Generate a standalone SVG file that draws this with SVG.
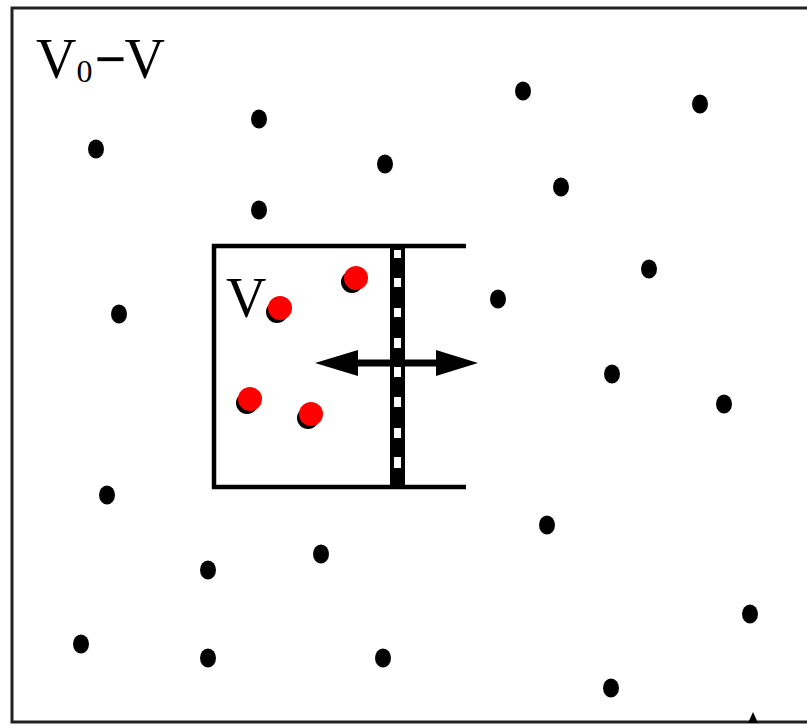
<svg xmlns="http://www.w3.org/2000/svg" width="807" height="725" viewBox="0 0 807 725">
<style>
.dot{fill:#000}
.red{fill:#ff0000}
.lbl{font-family:"Liberation Serif",serif;font-size:56px;fill:#000}
.wall{stroke:#000;stroke-width:4.5;fill:none}
</style>
<rect width="807" height="725" fill="#fff"/>
<g id="frame">
<path d="M807 8 H12 V722 H807" fill="none" stroke="#222" stroke-width="3"/>
<polygon points="748,723 753,712 758,723" fill="#000"/>
</g>
<g id="label-outer">
<text class="lbl" x="36" y="78">V<tspan font-size="32" dy="4">0</tspan><tspan dy="-4" font-weight="bold" dx="2">−</tspan><tspan dx="-2">V</tspan></text>
</g>
<g id="particles-outer">
<ellipse class="dot" cx="96" cy="149" rx="8" ry="9.5"/>
<ellipse class="dot" cx="259" cy="119" rx="8" ry="9.5"/>
<ellipse class="dot" cx="385" cy="164" rx="8" ry="9.5"/>
<ellipse class="dot" cx="523" cy="91" rx="8" ry="9.5"/>
<ellipse class="dot" cx="700" cy="104" rx="8" ry="9.5"/>
<ellipse class="dot" cx="561" cy="187" rx="8" ry="9.5"/>
<ellipse class="dot" cx="259" cy="210" rx="8" ry="9.5"/>
<ellipse class="dot" cx="649" cy="269" rx="8" ry="9.5"/>
<ellipse class="dot" cx="119" cy="314" rx="8" ry="9.5"/>
<ellipse class="dot" cx="498" cy="299" rx="8" ry="9.5"/>
<ellipse class="dot" cx="612" cy="374" rx="8" ry="9.5"/>
<ellipse class="dot" cx="724" cy="404" rx="8" ry="9.5"/>
<ellipse class="dot" cx="107" cy="495" rx="8" ry="9.5"/>
<ellipse class="dot" cx="547" cy="525" rx="8" ry="9.5"/>
<ellipse class="dot" cx="321" cy="554" rx="8" ry="9.5"/>
<ellipse class="dot" cx="208" cy="570" rx="8" ry="9.5"/>
<ellipse class="dot" cx="750" cy="614" rx="8" ry="9.5"/>
<ellipse class="dot" cx="81" cy="644" rx="8" ry="9.5"/>
<ellipse class="dot" cx="208" cy="658" rx="8" ry="9.5"/>
<ellipse class="dot" cx="383" cy="658" rx="8" ry="9.5"/>
<ellipse class="dot" cx="611" cy="688" rx="8" ry="9.5"/>
</g>
<g id="cylinder">
<path class="wall" d="M466 246 H214 V487 H466"/>
</g>
<g id="piston">
<rect x="390" y="246" width="15" height="243" fill="#000"/>
<g fill="#fff">
<rect x="394" y="250" width="7" height="8"/>
<rect x="394" y="278" width="7" height="9"/>
<rect x="394" y="308" width="7" height="9"/>
<rect x="394" y="338" width="7" height="10"/>
<rect x="394" y="367" width="7" height="10"/>
<rect x="394" y="397" width="7" height="10"/>
<rect x="394" y="428" width="7" height="10"/>
<rect x="394" y="457" width="7" height="11"/>
</g>
</g>
<g id="arrow">
<rect x="352" y="359.5" width="90" height="7" fill="#000"/>
<polygon points="315,363 358,350 358,376" fill="#000"/>
<polygon points="478,363 436,350 436,376" fill="#000"/>
</g>
<g id="label-inner">
<text class="lbl" x="226" y="317">V</text>
</g>
<g id="particles-inner">
<circle class="dot" cx="277" cy="312" r="11"/>
<circle class="dot" cx="352" cy="282" r="11"/>
<circle class="dot" cx="247" cy="403" r="11"/>
<circle class="dot" cx="308" cy="418" r="11"/>
<circle class="red" cx="280" cy="308" r="12"/>
<circle class="red" cx="356" cy="278" r="12"/>
<circle class="red" cx="250" cy="399" r="12"/>
<circle class="red" cx="311" cy="414" r="12"/>
</g>
</svg>
